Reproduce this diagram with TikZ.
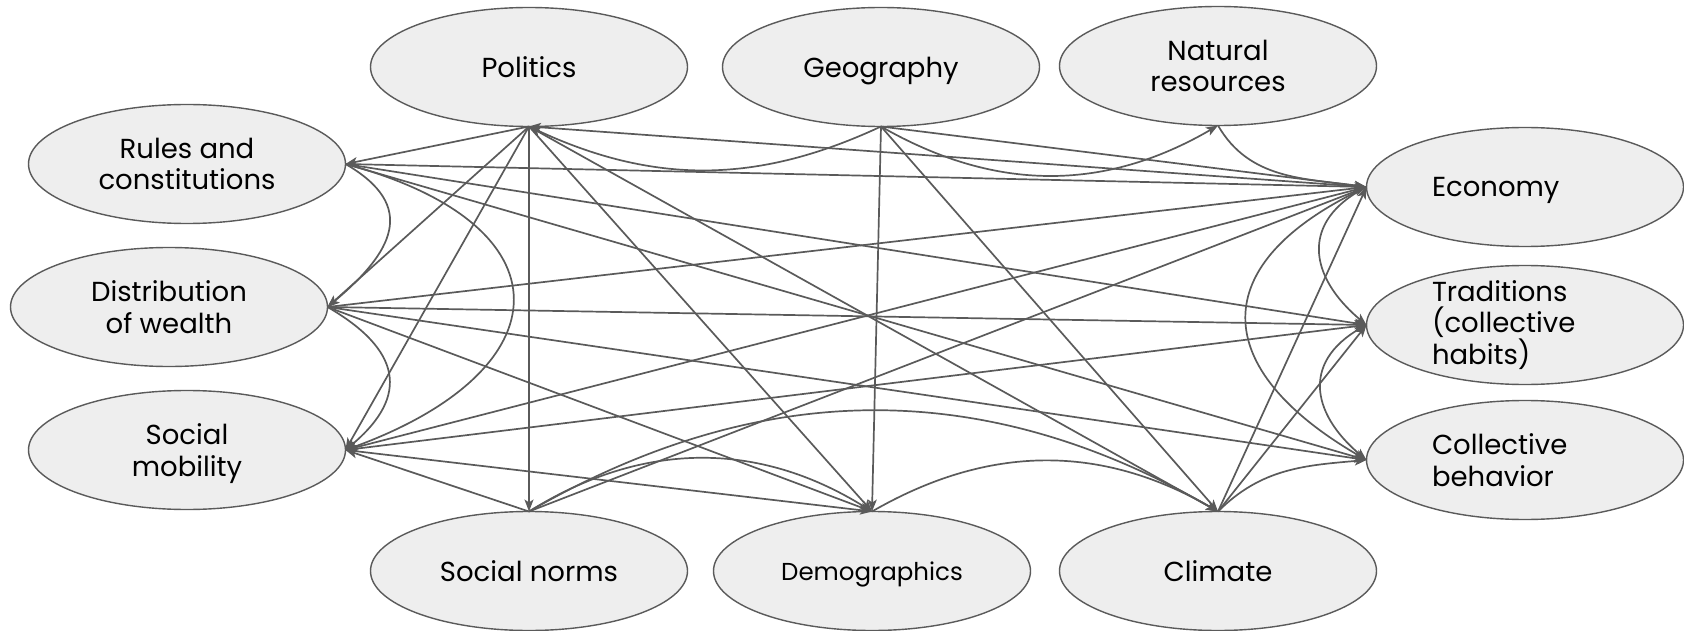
\documentclass[tikz,border=0pt]{standalone}
\usepackage{fontspec}
\setmainfont{Poppins}
\usetikzlibrary{arrows.meta,shapes.geometric}

\definecolor{nodefill}{HTML}{EEEEEE}
\definecolor{linegray}{HTML}{5A5A5A}

\tikzset{
  factor/.style={ellipse, draw=linegray, line width=1.4pt, fill=nodefill,
    minimum width=317pt, minimum height=119pt, inner sep=0pt, outer sep=0pt,
    align=center, font=\fontsize{27.5}{31.7}\selectfont},
  lefttext/.style={text width=186pt, align=left, inner sep=0pt,
    font=\fontsize{27.5}{31.7}\selectfont},
  link/.style={draw=linegray, line width=1.7pt,
    -{Stealth[length=12pt,width=9pt,inset=3pt]}},
}

\begin{document}
\begin{tikzpicture}[x=1pt,y=1pt]
  \useasboundingbox (0,0) rectangle (1684,-631);

  % Draw the factors
  \node[factor] (pol)    at (529,-67)  {Politics};
  \node[factor, text depth=0pt] (geo) at (881,-67) {Geography};
  \node[factor] (nat)    at (1218,-66) {Natural\\resources};
  \node[factor] (rules)  at (187,-164) {Rules and\\constitutions};
  \node[factor] (wealth) at (169,-307) {Distribution\\of wealth};
  \node[factor, text depth=0pt] (mob) at (187,-450) {Social\\mobility};
  \node[factor] (norms)  at (529,-571) {Social norms};
  \node[factor, text depth=0pt, font=\fontsize{24.5}{29}\selectfont] (demo) at (872,-571) {Demographics};
  \node[factor] (clim)   at (1218,-571) {Climate};
  \node[factor, label={[lefttext, text depth=0pt]center:Economy}] (econ) at (1525,-187) {};
  \node[factor, label={[lefttext]center:Traditions\\(collective\\habits)}] (trad) at (1525,-325) {};
  \node[factor, label={[lefttext]center:Collective\\behavior}] (behav) at (1525,-460) {};

  % Draw the straight links
  \foreach \from/\to in {pol.south/rules.east, pol.south/wealth.east, pol.south/mob.east,
      pol.south/norms.north, pol.south/demo.north, pol.south/clim.north, econ.west/pol.south,
      geo.south/econ.west, geo.south/demo.north, geo.south/clim.north,
      rules.east/econ.west, rules.east/trad.west, rules.east/behav.west,
      wealth.east/econ.west, wealth.east/trad.west, wealth.east/behav.west, wealth.east/demo.north,
      mob.east/econ.west, mob.east/trad.west, mob.east/demo.north, norms.north/mob.east,
      norms.north/econ.west, clim.north/econ.west, clim.north/trad.west} {
    \draw[link] (\from) -- (\to);
  }

  % Draw the curved links
  \draw[link] (geo.south) to[bend left=25] (pol.south);
  \draw[link] (geo.south) to[bend right=30] (nat.south);
  \draw[link] (nat.south) to[out=-60,in=172] (econ.west);
  \draw[link] (rules.east) to[out=-30,in=40,looseness=1.5] (wealth.east);
  \draw[link] (wealth.east) to[out=-30,in=40,looseness=1.5] (mob.east);
  \draw[link] (rules.east) to[out=-15,in=20,looseness=2.1] (mob.east);
  \draw[link] (econ.west) to[out=-153,in=140,looseness=1.4] (trad.west);
  \draw[link] (trad.west) to[out=-153,in=140,looseness=1.4] (behav.west);
  \draw[link] (econ.west) to[out=-155,in=150,looseness=1.7] (behav.west);
  \draw[link] (clim.north) to[out=45,in=185] (behav.west);
  \draw[link] (norms.north) to[bend left=32] (demo.north);
  \draw[link] (norms.north) to[bend left=30] (clim.north);
  \draw[link] (demo.north) to[bend left=30] (clim.north);
\end{tikzpicture}
\end{document}
